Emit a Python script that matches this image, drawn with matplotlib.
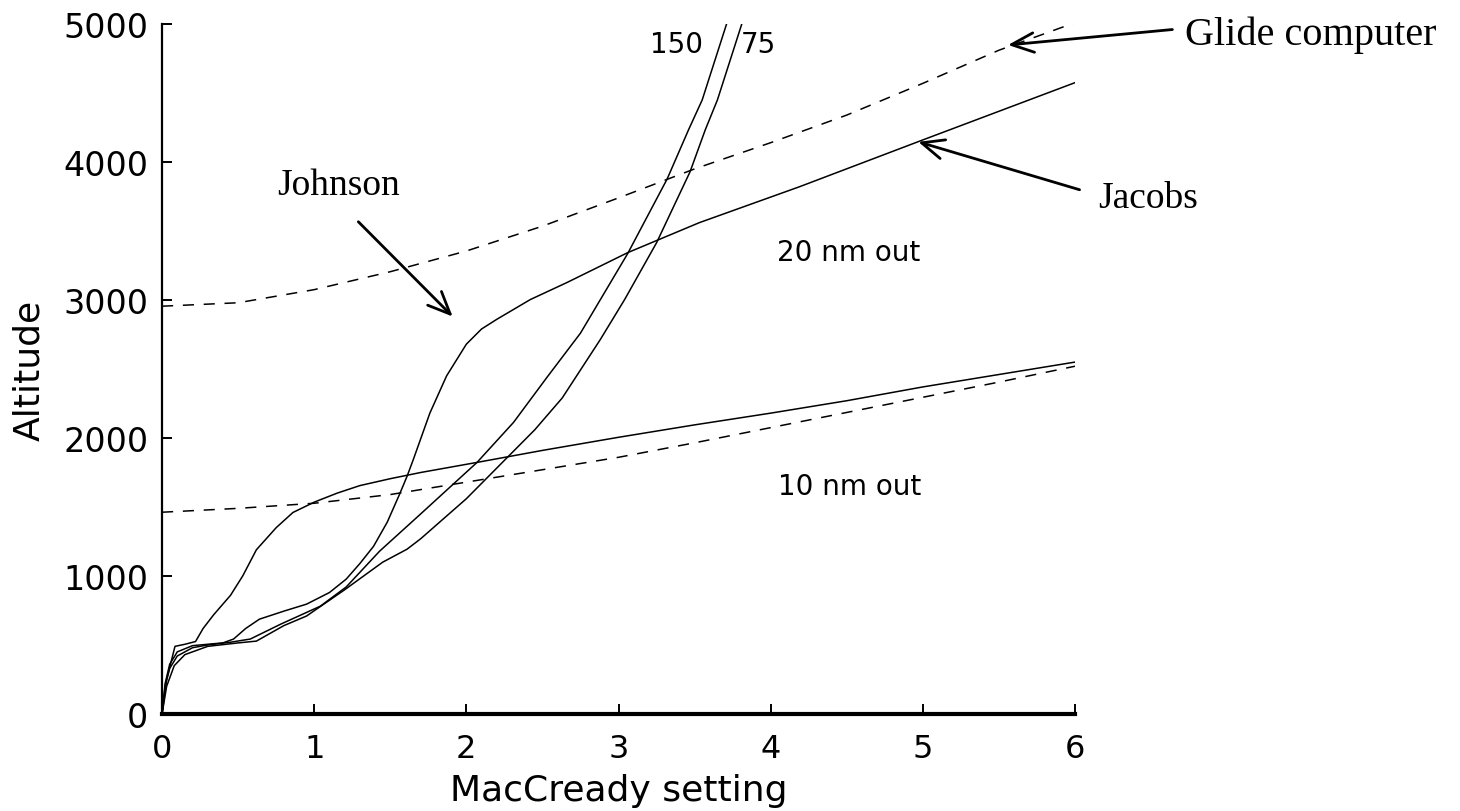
import matplotlib
matplotlib.use("Agg")
import matplotlib.pyplot as plt

plt.rcParams["lines.scale_dashes"] = False

# Glide computer (dashed) curves, sampled every 0.5 knot of MacCready setting
glide_x = [0, 0.5, 1, 1.5, 2, 2.5, 3, 3.5, 4, 4.5, 5, 5.5, 6]
glide_20nm = [2955, 2980, 3075, 3205, 3355, 3535, 3740, 3950, 4140, 4340, 4570, 4810, 5010]
glide_10nm = [1462, 1490, 1527, 1590, 1680, 1770, 1860, 1965, 2075, 2185, 2295, 2405, 2520]

# 10 nm out, solid curve
solid10_x = [0, 0.03, 0.085, 0.15, 0.22, 0.27, 0.34, 0.45, 0.53, 0.62, 0.75, 0.86, 1.0,
             1.15, 1.3, 1.5, 1.7, 2.07, 2.5, 3.0, 3.5, 4.0, 4.5, 5.0, 5.5, 6.0]
solid10_y = [0, 250, 490, 505, 525, 620, 720, 860, 1000, 1190, 1350, 1460, 1535,
             1600, 1655, 1705, 1750, 1823, 1910, 2005, 2095, 2180, 2270, 2370, 2460, 2550]

# 20 nm out, Johnson curve joining the Jacobs line
solid20_x = [0, 0.02, 0.05, 0.1, 0.2, 0.3, 0.4, 0.47, 0.55, 0.64, 0.8, 0.95, 1.1, 1.21, 1.3,
             1.39, 1.48, 1.56, 1.61, 1.65, 1.76, 1.87, 2.0, 2.1, 2.2, 2.42, 2.66, 3.06,
             3.53, 4.19, 5.0, 6.0]
solid20_y = [0, 220, 360, 450, 495, 505, 515, 543, 620, 687, 745, 796, 880, 977, 1090,
             1215, 1390, 1590, 1722, 1840, 2180, 2450, 2680, 2790, 2860, 3003, 3126, 3343,
             3560, 3821, 4160, 4575]

# Steep curves labelled 150 and 75
c150_x = [0, 0.02, 0.05, 0.1, 0.2, 0.3, 0.45, 0.58, 0.78, 1.04, 1.21, 1.43, 1.7, 2.07,
          2.31, 2.53, 2.75, 3.06, 3.32, 3.46, 3.55, 3.71]
c150_y = [0, 200, 330, 420, 480, 500, 520, 543, 651, 781, 920, 1180, 1450, 1823,
          2113, 2440, 2760, 3336, 3878, 4233, 4450, 5000]

c75_x = [0, 0.03, 0.08, 0.15, 0.3, 0.5, 0.62, 0.8, 0.95, 1.2, 1.45, 1.61, 1.7, 2.0, 2.27,
         2.45, 2.63, 2.88, 3.04, 3.25, 3.47, 3.57, 3.65, 3.81]
c75_y = [0, 200, 350, 430, 490, 515, 528, 640, 710, 900, 1100, 1194, 1270, 1560, 1860,
         2060, 2290, 2713, 3003, 3415, 3929, 4233, 4450, 5000]

x_ticks = [0, 1, 2, 3, 4, 5, 6]
y_ticks = [0, 1000, 2000, 3000, 4000, 5000]

fig = plt.figure(figsize=(14.6, 8.12), dpi=100)
ax = fig.add_axes([0.111, 0.1195, 0.6253, 0.8497])

lw = 1.1
dash = (8, 7)
ax.plot(glide_x, glide_20nm, color="black", lw=lw, dashes=dash)
ax.plot(glide_x, glide_10nm, color="black", lw=lw, dashes=dash)
ax.plot(solid10_x, solid10_y, color="black", lw=lw)
ax.plot(solid20_x, solid20_y, color="black", lw=lw)
ax.plot(c150_x, c150_y, color="black", lw=lw)
ax.plot(c75_x, c75_y, color="black", lw=lw)

ax.set_xlim(0, 6)
ax.set_ylim(0, 5000)
ax.set_xticks(x_ticks)
ax.set_yticks(y_ticks)

for side in ("top", "right"):
    ax.spines[side].set_visible(False)
ax.spines["left"].set_linewidth(1.6)
ax.spines["bottom"].set_linewidth(3.0)

tick_font = "DejaVu Sans"
ax.tick_params(axis="both", direction="in", length=7, width=1.4, colors="black")
ax.tick_params(axis="x", pad=14, labelsize=23)
ax.tick_params(axis="y", pad=10, labelsize=24)
for lab in ax.get_xticklabels() + ax.get_yticklabels():
    lab.set_fontfamily(tick_font)

ax.set_xlabel("MacCready setting", fontsize=26, family=tick_font, labelpad=6)
ax.set_ylabel("Altitude", fontsize=26, family=tick_font, labelpad=12)

# Curve labels inside the plot
ax.text(4.51, 3350, "20 nm out", fontsize=20, family=tick_font, ha="center", va="center")
ax.text(4.52, 1650, "10 nm out", fontsize=20, family=tick_font, ha="center", va="center")
ax.text(3.38, 4855, "150", fontsize=20, family=tick_font, ha="center", va="center")
ax.text(3.92, 4855, "75", fontsize=20, family=tick_font, ha="center", va="center")

# Annotations with arrows
serif = "Liberation Serif"
arrow = dict(arrowstyle="->,head_length=0.8,head_width=0.35", lw=2.0, color="black",
             shrinkA=0, shrinkB=0, mutation_scale=20)

ax.text(6.72, 4925, "Glide computer", fontsize=29, family=serif, ha="left", va="center",
        clip_on=False)
ax.annotate("", xy=(5.56, 4848), xytext=(6.64, 4960), arrowprops=arrow,
            annotation_clip=False)

ax.text(6.15, 3740, "Jacobs", fontsize=27, family=serif, ha="left", va="center",
        clip_on=False)
ax.annotate("", xy=(4.97, 4146), xytext=(6.03, 3799), arrowprops=arrow,
            annotation_clip=False)

ax.text(1.16, 3835, "Johnson", fontsize=27, family=serif, ha="center", va="center")
ax.annotate("", xy=(1.91, 2880), xytext=(1.29, 3567), arrowprops=arrow,
            annotation_clip=False)

fig.savefig("out.png", dpi=100)
